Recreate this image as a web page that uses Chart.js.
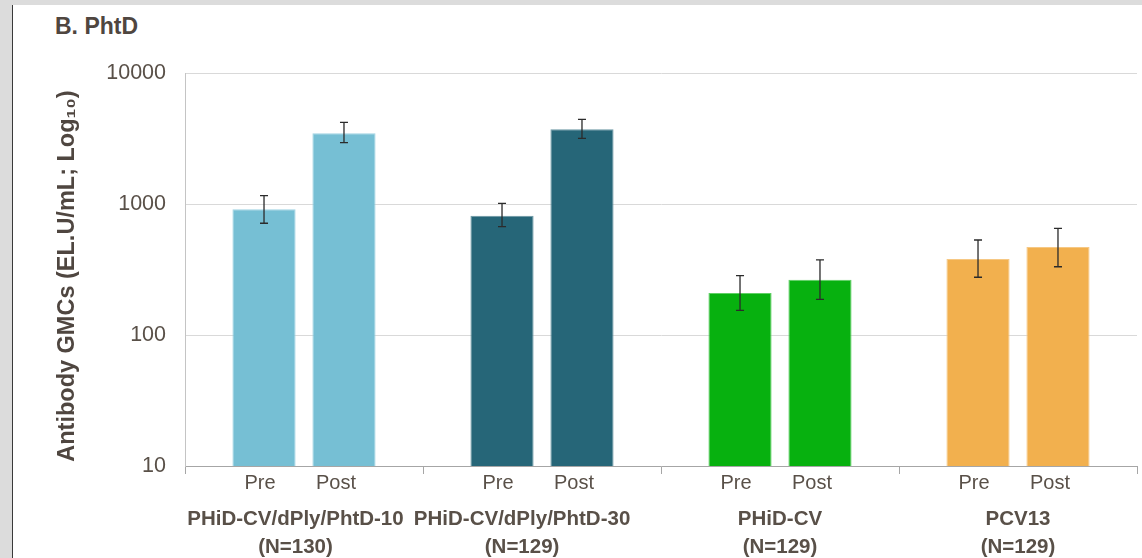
<!DOCTYPE html>
<html>
<head>
<meta charset="utf-8">
<script src="https://cdn.jsdelivr.net/npm/chart.js@4/dist/chart.umd.min.js"></script>
<style>
  body { margin: 0; background: #dcdcdc; width: 1142px; height: 558px; overflow: hidden; }
  #frame { position: absolute; left: 12px; top: 5px; width: 1129px; height: 553px;
           background: #fff; border-left: 1px solid #3a3a3a; }
  #title { position: absolute; left: 42px; top: 10px; font: bold 23px "Liberation Sans", Arial, sans-serif;
           line-height: 22px; color: #4f4640; }
  canvas { position: absolute; left: 0; top: 0; }
</style>
</head>
<body>
<div id="frame">
  <div id="title">B. PhtD</div>
  <canvas id="chart" width="1129" height="553"></canvas>
</div>
<script>
var groups = ["PHiD-CV/dPly/PhtD-10", "PHiD-CV/dPly/PhtD-30", "PHiD-CV", "PCV13"];
var groupN = ["(N=130)", "(N=129)", "(N=129)", "(N=129)"];
var timepoints = ["Pre", "Post"];

// GMCs with 95% CI
var preGMC = [912, 814, 209, 380];
var preLow = [713, 671, 154, 276];
var preHigh = [1157, 1012, 284, 531];
var postGMC = [3464, 3715, 264, 470];
var postLow = [2938, 3170, 187, 332];
var postHigh = [4204, 4433, 374, 652];

var yTicks = [10, 100, 1000, 10000];
var colors = ['#76bfd4', '#266678', '#07b10f', '#f2b04e'];
var edges = ['#9fd3e2', '#6a97a3', '#5fd064', '#f6c884'];

var textColor = '#595048';
var fontFamily = '"Liberation Sans", Arial, sans-serif';

// the two long group names sit a bit left of centre in the original
var labelPad = ['   ', '       ', '', ''];
var prePostShift = [-4, -8];

// error bars drawn from the y scale
var errorBars = {
  id: 'errorBars',
  afterDatasetsDraw: function(chart) {
    var ctx = chart.ctx;
    var y = chart.scales.y;
    ctx.save();
    ctx.strokeStyle = '#2b2b2b';
    ctx.lineWidth = 1.3;
    chart.data.datasets.forEach(function(ds, di) {
      chart.getDatasetMeta(di).data.forEach(function(bar, i) {
        var top = y.getPixelForValue(ds.high[i]);
        var bot = y.getPixelForValue(ds.low[i]);
        ctx.beginPath();
        ctx.moveTo(bar.x, top); ctx.lineTo(bar.x, bot);
        ctx.moveTo(bar.x - 4, top); ctx.lineTo(bar.x + 4, top);
        ctx.moveTo(bar.x - 4, bot); ctx.lineTo(bar.x + 4, bot);
        ctx.stroke();
      });
    });
    ctx.restore();
  }
};

// Pre / Post under each bar
var barLabels = {
  id: 'barLabels',
  afterDraw: function(chart) {
    var ctx = chart.ctx;
    ctx.save();
    ctx.fillStyle = textColor;
    ctx.font = '20px ' + fontFamily;
    ctx.textAlign = 'center';
    ctx.textBaseline = 'middle';
    chart.data.datasets.forEach(function(ds, di) {
      chart.getDatasetMeta(di).data.forEach(function(bar) {
        ctx.fillText(ds.label, bar.x + prePostShift[di], chart.chartArea.bottom + 17);
      });
    });
    ctx.restore();
  }
};

new Chart(document.getElementById('chart').getContext('2d'), {
  type: 'bar',
  data: {
    labels: groups.map(function(g, i) { return [g + labelPad[i], groupN[i] + labelPad[i]]; }),
    datasets: [{
      label: timepoints[0],
      data: preGMC,
      low: preLow,
      high: preHigh,
      backgroundColor: colors,
      borderColor: edges,
      borderWidth: 1
    }, {
      label: timepoints[1],
      data: postGMC,
      low: postLow,
      high: postHigh,
      backgroundColor: colors,
      borderColor: edges,
      borderWidth: 1
    }]
  },
  options: {
    responsive: false,
    animation: false,
    devicePixelRatio: 1,
    categoryPercentage: 0.672,
    barPercentage: 0.79,
    layout: { padding: { left: 0, right: 5, top: 68, bottom: 0 } },
    plugins: {
      legend: { display: false },
      tooltip: { enabled: false }
    },
    scales: {
      x: {
        offset: true,
        grid: {
          offset: true,
          drawOnChartArea: false,
          drawTicks: true,
          tickLength: 8,
          color: '#a6a6a6'
        },
        border: { color: '#a6a6a6' },
        ticks: {
          padding: 31,
          color: textColor,
          font: { family: fontFamily, size: 20.5, weight: 'bold', lineHeight: 1.37 },
          maxRotation: 0,
          autoSkip: false
        },
        afterFit: function(scale) { scale.height = 92; }
      },
      y: {
        type: 'logarithmic',
        min: 10,
        max: 10000,
        afterBuildTicks: function(scale) {
          scale.ticks = yTicks.map(function(v) { return { value: v }; });
        },
        afterFit: function(scale) { scale.width = 172; },
        grid: { color: '#d9d9d9', drawTicks: false },
        border: { color: '#c4c4c4' },
        ticks: {
          padding: 19,
          color: textColor,
          font: { family: fontFamily, size: 21.5 },
          callback: function(v) { return String(v); }
        },
        title: {
          display: true,
          text: 'Antibody GMCs (EL.U/mL; Log\u2081\u2080)  ',
          color: '#4f4640',
          font: { family: fontFamily, size: 23.5, weight: 'bold' },
          padding: { top: 40, bottom: 0 }
        }
      }
    }
  },
  plugins: [errorBars, barLabels]
});
</script>
</body>
</html>
